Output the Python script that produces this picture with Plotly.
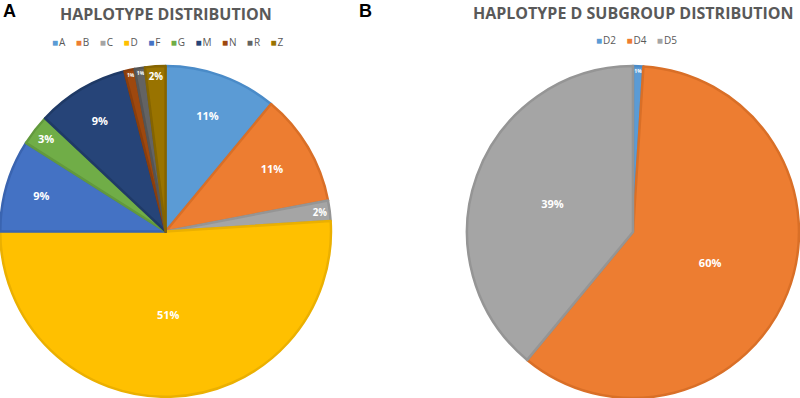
import plotly.graph_objects as go

hap_labels = ["A", "B", "C", "D", "F", "G", "M", "N", "R", "Z"]
hap_values = [11, 11, 2, 51, 9, 3, 9, 1, 1, 2]
hap_colors = ["#5B9BD5", "#ED7D31", "#A5A5A5", "#FFC000", "#4472C4",
              "#70AD47", "#264478", "#9E480E", "#636363", "#997300"]
hap_edge = ["#4A8BC8", "#D96F27", "#959595", "#EBB000", "#3A64B0",
            "#62993D", "#1F3A66", "#8A3E0C", "#555555", "#856400"]

sub_labels = ["D2", "D4", "D5"]
sub_values = [1, 60, 39]
sub_colors = ["#5B9BD5", "#ED7D31", "#A5A5A5"]
sub_edge = ["#4A8BC8", "#D96F27", "#959595"]

fig = go.Figure()
fig.add_trace(go.Pie(
    labels=hap_labels, values=hap_values, sort=False, direction="clockwise",
    rotation=0, marker=dict(colors=hap_colors, line=dict(color=hap_edge, width=2.5)),
    texttemplate="<b>%{percent:.0%}</b>", textposition="inside",
    insidetextorientation="horizontal",
    textfont=dict(color="white", size=11, family="Open Sans"),
    domain=dict(x=[0, 0.414], y=[0.003, 0.834]), showlegend=False,
))
fig.add_trace(go.Pie(
    labels=sub_labels, values=sub_values, sort=False, direction="clockwise",
    rotation=0, marker=dict(colors=sub_colors, line=dict(color=sub_edge, width=2.5)),
    texttemplate="<b>%{percent:.0%}</b>", textposition="inside",
    insidetextorientation="horizontal",
    textfont=dict(color="white", size=11, family="Open Sans"),
    domain=dict(x=[0.5825, 1.0], y=[0, 0.834]), showlegend=False,
))


def legend_text(labels, colors):
    parts = [f"<span style='color:{c}'>■</span>&#8202;{l}" for l, c in zip(labels, colors)]
    return "&nbsp;&nbsp;&nbsp;&nbsp;".join(parts)


def ann(text, xpx, ypx, size, color="#595959", anchor="center", family="Open Sans"):
    return dict(text=text, x=xpx / 800, y=(398 - ypx) / 398, xref="paper", yref="paper",
                xanchor=anchor, yanchor="middle", showarrow=False,
                font=dict(size=size, color=color, family=family))


fig.update_layout(
    width=800, height=398, margin=dict(l=0, r=0, t=0, b=0),
    paper_bgcolor="white", plot_bgcolor="white",
    font=dict(family="Open Sans", color="#595959"),
    annotations=[
        ann("<b>HAPLOTYPE DISTRIBUTION</b>", 166, 14, 16),
        ann("<b>HAPLOTYPE D SUBGROUP DISTRIBUTION</b>", 633, 13, 16),
        ann("<b>A</b>", 1, 11, 18, "black", "left", "Liberation Sans"),
        ann("<b>B</b>", 357, 11, 18, "black", "left", "Liberation Sans"),
        ann(legend_text(hap_labels, hap_colors), 168, 42, 10),
        ann(legend_text(sub_labels, sub_colors), 636, 40, 10),
    ],
)

fig.write_html("out.html", config={"displayModeBar": False},
               post_script="document.body.style.margin='0';")
